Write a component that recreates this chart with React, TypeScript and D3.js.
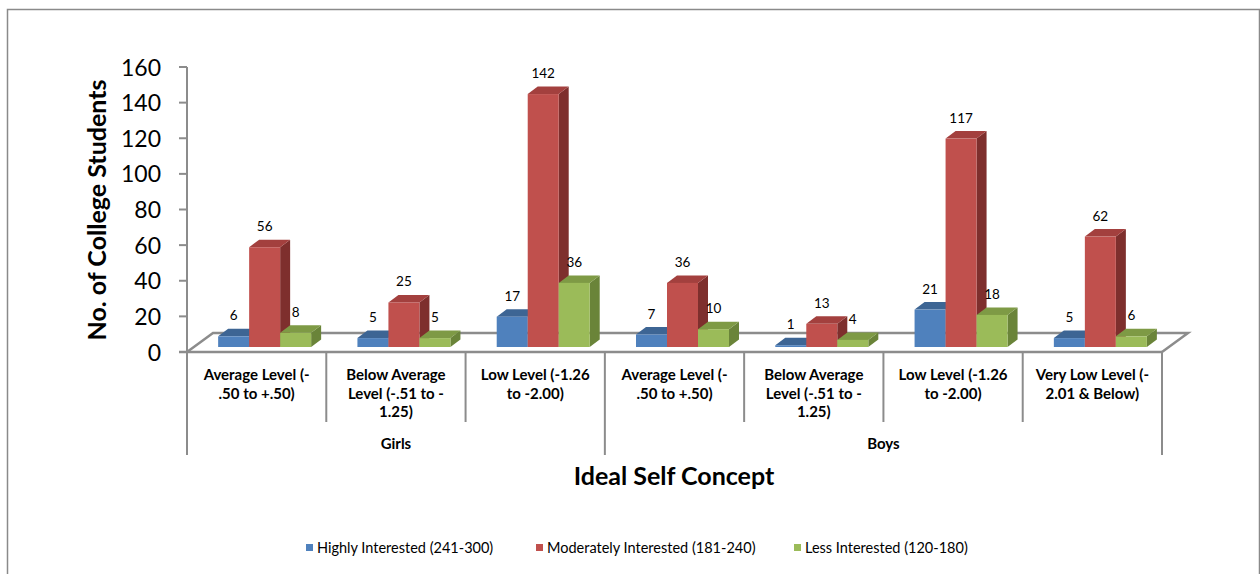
import React from "react";
import * as d3 from "d3";

const categories: string[][] = [
  ["Average Level (-", ".50 to +.50)"],
  ["Below Average", "Level (-.51 to -", "1.25)"],
  ["Low Level (-1.26", "to -2.00)"],
  ["Average Level (-", ".50 to +.50)"],
  ["Below Average", "Level (-.51 to -", "1.25)"],
  ["Low Level (-1.26", "to -2.00)"],
  ["Very Low Level (-", "2.01 & Below)"],
];
const groups = [
  { name: "Girls", start: 0, end: 3 },
  { name: "Boys", start: 3, end: 7 },
];
const seriesNames = [
  "Highly Interested (241-300)",
  "Moderately Interested (181-240)",
  "Less Interested (120-180)",
];
const highly = [6, 5, 17, 7, 1, 21, 5];
const moderately = [56, 25, 142, 36, 13, 117, 62];
const less = [8, 5, 36, 10, 4, 18, 6];
const yTicks = [0, 20, 40, 60, 80, 100, 120, 140, 160];

const seriesValues = [highly, moderately, less];
const front = ["#4F81BD", "#C0504D", "#9BBB59"];
const topC = ["#3D6594", "#A3403E", "#7E9A45"];
const sideC = ["#355A86", "#7E2F2D", "#6A8439"];

const FONT = "Lato, 'Open Sans', sans-serif";

export default function App() {
  const W = 1260, H = 574;
  const axisX = 187, endX = 1162;
  const y0 = 352, yTop = 67;
  const floorDx = 26, floorDy = -19;
  const barDx = 10, barDy = -7.5;
  const barBase = 347;

  const y = d3.scaleLinear().domain([0, 160]).range([y0, yTop]);
  const x = d3.scaleBand<number>().domain(d3.range(categories.length)).range([axisX, endX]).padding(0);
  const xs = d3.scaleBand<number>().domain([0, 1, 2]).range([-46.5, 46.5]).padding(0);
  const bw = xs.bandwidth();
  const grey = "#8c8c8c";

  const bars: React.ReactNode[] = [];
  const labels: React.ReactNode[] = [];
  categories.forEach((_, ci) => {
    const cx = (x(ci) as number) + x.bandwidth() / 2 + 8;
    seriesValues.forEach((vals, si) => {
      const v = vals[ci];
      const h = y0 - y(v);
      const x0 = cx + (xs(si) as number);
      const x1 = x0 + bw;
      const yt = barBase - h;
      const yb = barBase;
      bars.push(
        <g key={`b${ci}-${si}`}>
          <path d={`M${x1},${yb} L${x1 + barDx},${yb + barDy} L${x1 + barDx},${yt + barDy} L${x1},${yt} Z`} fill={sideC[si]} />
          <path d={`M${x0},${yt} L${x0 + barDx},${yt + barDy} L${x1 + barDx},${yt + barDy} L${x1},${yt} Z`} fill={topC[si]} />
          <rect x={x0} y={yt} width={bw} height={h} fill={front[si]} />
        </g>
      );
      labels.push(
        <text key={`l${ci}-${si}`} x={x0 + bw / 2} y={yt - 16} textAnchor="middle" fontSize={13.5} fontFamily={FONT} fill="#000">
          {v}
        </text>
      );
    });
  });

  const legendX = [306, 536, 794];

  return (
    <svg width={W} height={H} style={{ position: "absolute", left: 0, top: 0 }}>
      <rect x={0} y={0} width={W} height={H} fill="#fff" />
      <rect x={7.5} y={9.5} width={1252} height={600} fill="none" stroke="#8a8a8a" strokeWidth={1.5} />
      {/* floor */}
      <path
        d={`M${axisX},${y0} L${axisX + floorDx},${y0 + floorDy} L${endX + floorDx},${y0 + floorDy} L${endX},${y0}`}
        fill="none" stroke={grey} strokeWidth={2.5}
      />
      {/* y axis */}
      <line x1={axisX} x2={axisX} y1={yTop} y2={455} stroke={grey} strokeWidth={2} />
      <line x1={axisX - 8} x2={endX} y1={y0} y2={y0} stroke={grey} strokeWidth={2.5} />
      {yTicks.map((t) => (
        <g key={t}>
          <line x1={axisX - 8} x2={axisX} y1={y(t)} y2={y(t)} stroke={grey} strokeWidth={2} />
          <text x={161} y={y(t) + 8.5} textAnchor="end" fontSize={23} fontFamily={FONT} fill="#000">{t}</text>
        </g>
      ))}
      {/* category dividers */}
      {d3.range(1, categories.length).map((i) => {
        const isGroup = groups.some((g) => g.start === i);
        return (
          <line key={i} x1={x(i) as number} x2={x(i) as number} y1={y0} y2={isGroup ? 455 : 422} stroke={grey} strokeWidth={2} />
        );
      })}
      <line x1={endX} x2={endX} y1={y0} y2={455} stroke={grey} strokeWidth={2} />
      {/* category labels */}
      {categories.map((lines, ci) => (
        <text key={ci} textAnchor="middle" fontSize={15} fontWeight="bold" fontFamily={FONT} fill="#000">
          {lines.map((ln, li) => (
            <tspan key={li} x={(x(ci) as number) + x.bandwidth() / 2} y={380 + li * 18.5}>{ln}</tspan>
          ))}
        </text>
      ))}
      {groups.map((g) => (
        <text key={g.name} x={((x(g.start) as number) + (g.end >= categories.length ? endX : (x(g.end) as number))) / 2} y={449}
          textAnchor="middle" fontSize={15} fontWeight="bold" fontFamily={FONT}>{g.name}</text>
      ))}
      {bars}
      {labels}
      {/* axis titles */}
      <text transform="translate(106,210) rotate(-90)" textAnchor="middle" fontSize={25} fontWeight="bold" fontFamily={FONT}>
        No. of College Students
      </text>
      <text x={674} y={485} textAnchor="middle" fontSize={25} fontWeight="bold" fontFamily={FONT}>Ideal Self Concept</text>
      {/* legend */}
      {seriesNames.map((n, i) => (
        <g key={n}>
          <rect x={legendX[i]} y={544} width={7} height={7} fill={front[i]} />
          <text x={legendX[i] + 11} y={553} fontSize={14.5} fontFamily={FONT}>{n}</text>
        </g>
      ))}
    </svg>
  );
}
